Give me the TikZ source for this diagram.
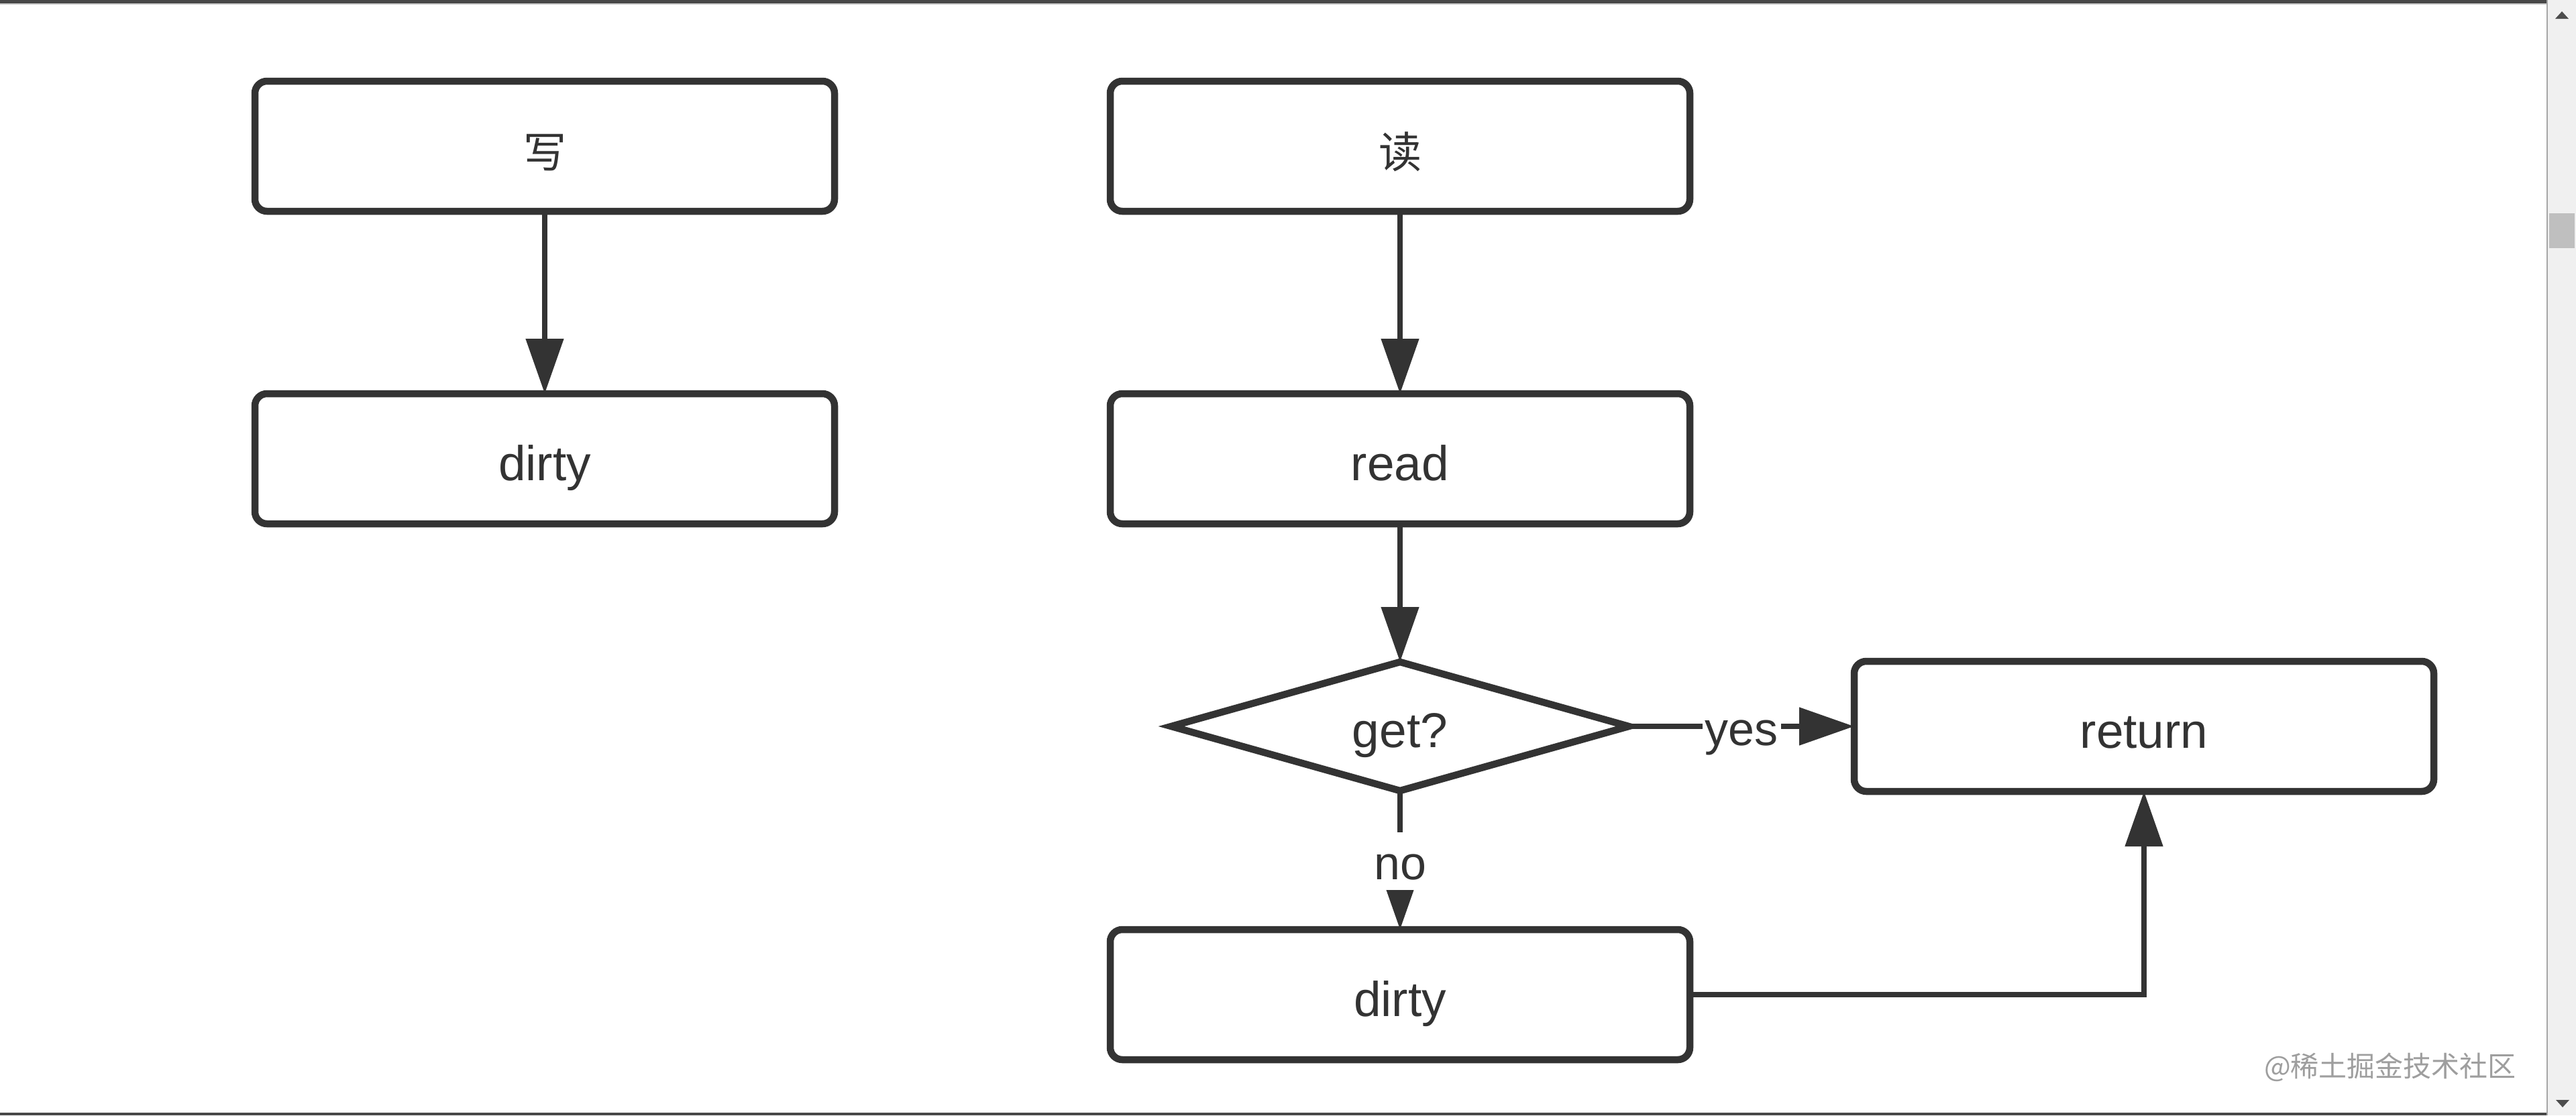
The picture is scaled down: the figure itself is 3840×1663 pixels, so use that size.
\documentclass[tikz,border=0pt]{standalone}
\usepackage{fontspec}
\setmainfont{Liberation Sans}
\newfontfamily\cjk{Noto Sans CJK SC}
\usetikzlibrary{arrows.meta,shapes.geometric}
\definecolor{ink}{HTML}{333333}
\definecolor{bar}{HTML}{474747}
\definecolor{wmark}{HTML}{9E9E9E}
\tikzset{
  box/.style={draw=ink, line width=10.5pt, rounded corners=18pt, minimum width=864pt,
    minimum height=194pt, inner sep=0pt, outer sep=0pt, text=ink,
    font=\fontsize{73}{86}\selectfont, text height=64pt, text depth=0pt},
  dec/.style={draw=ink, line width=10.5pt, diamond, aspect=3.55, minimum width=682pt,
    minimum height=192pt, inner sep=0pt, outer sep=0pt, text=ink,
    font=\fontsize{73}{86}\selectfont, text height=62pt, text depth=0pt},
  conn/.style={draw=ink, line width=8pt, -{Triangle[length=82pt,width=55pt]}},
  lbl/.style={fill=white, text=ink, font=\fontsize{70}{84}\selectfont,
    text height=56pt, text depth=0pt, inner xsep=4pt, inner ysep=15pt}
}
\begin{document}
\begin{tikzpicture}[x=1pt,y=-1pt]
  \useasboundingbox (0,0) rectangle (3840,1663);
  \fill[white] (0,0) rectangle (3840,1663);
  % window chrome
  \fill[bar] (0,0) rectangle (3797,5);
  \fill[black!20] (0,5) rectangle (3797,7);
  \fill[bar] (0,1659) rectangle (3797,1663);
  \fill[black!6] (3797,0) rectangle (3840,1663);
  \fill[black!35] (3796,0) rectangle (3798,1663);
  \fill[black!70] (3809,28) -- (3829,28) -- (3819,17) -- cycle;
  \fill[black!25] (3800,318) rectangle (3838,370);
  \fill[black!70] (3810,1640) -- (3830,1640) -- (3820,1651) -- cycle;

  % nodes
  \node[box] (w)   at (812,218)   {\cjk\fontsize{64}{76}\selectfont 写};
  \node[box] (wd)  at (812,684)   {dirty};
  \node[box] (r)   at (2087,218)  {\cjk\fontsize{64}{76}\selectfont 读};
  \node[box] (rd)  at (2087,684)  {read};
  \node[dec] (g)   at (2087,1083) {get?};
  \node[box] (ret) at (3196,1083) {return};
  \node[box] (d2)  at (2087,1483) {dirty};

  % connectors
  \draw[conn] (w) -- (wd);
  \draw[conn] (r) -- (rd);
  \draw[conn] (rd) -- (g);
  \draw[conn] (g) -- node[lbl, pos=0.5] {yes} (ret);
  \draw[conn] (g) -- node[lbl, pos=0.507] {no} (d2);
  \draw[conn] (d2.east) -| (ret.south);

  % watermark
  \node[font=\cjk\fontsize{42}{50}\selectfont, text=wmark, inner sep=0pt] (wm) at (3563,1591) {@稀土掘金技术社区};
\end{tikzpicture}
\end{document}
